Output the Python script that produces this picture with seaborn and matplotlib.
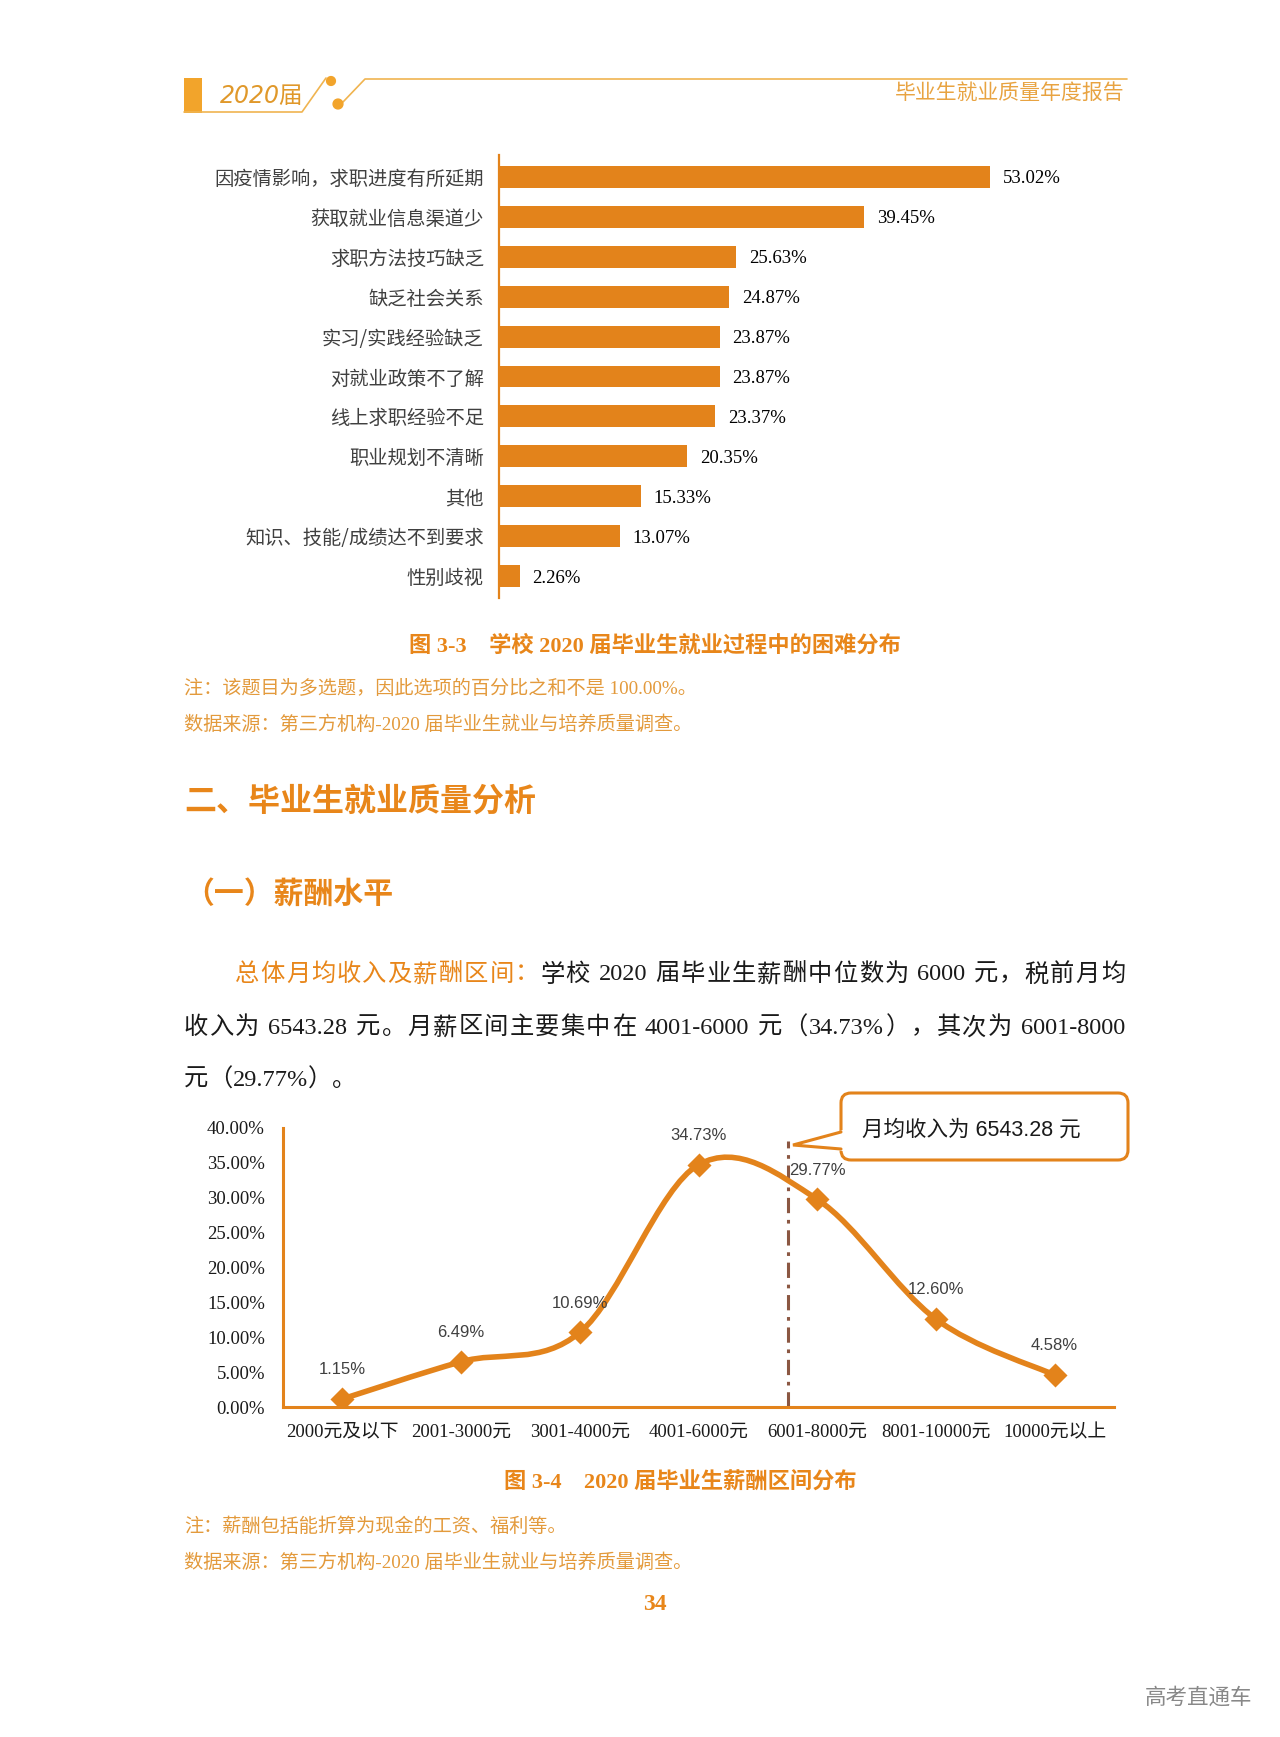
import re
import numpy as np
import pandas as pd
import seaborn as sns
import matplotlib.pyplot as plt
from matplotlib.path import Path
from matplotlib.patches import PathPatch, FancyBboxPatch, Polygon, Rectangle

# --- data ---
difficulties = ['因疫情影响，求职进度有所延期', '获取就业信息渠道少', '求职方法技巧缺乏',
                '缺乏社会关系', '实习/实践经验缺乏', '对就业政策不了解', '线上求职经验不足',
                '职业规划不清晰', '其他', '知识、技能/成绩达不到要求', '性别歧视']
difficulty_pct = [53.02, 39.45, 25.63, 24.87, 23.87, 23.87, 23.37, 20.35, 15.33, 13.07, 2.26]

salary_ranges = ['2000元及以下', '2001-3000元', '3001-4000元', '4001-6000元',
                 '6001-8000元', '8001-10000元', '10000元以上']
salary_pct = [1.15, 6.49, 10.69, 34.73, 29.77, 12.60, 4.58]
avg_income = 6543.28
avg_pos = 3.75          # where the average falls on the category axis
y_ticks = [0, 5, 10, 15, 20, 25, 30, 35, 40]

ORANGE = '#E3831B'
HEAD = '#E8861A'
NOTE = '#E39A3C'
TOP = '#E8A341'
GRAY = '#404040'
DARK = '#1a1a1a'

sns.set_style('white')
plt.rcParams['font.family'] = ['Liberation Serif', 'Noto Sans CJK SC', 'DejaVu Sans']
CJK = ['Noto Sans CJK SC', 'DejaVu Sans']
SERIF = ['Liberation Serif', 'Noto Sans CJK SC']
SANS = ['Liberation Sans', 'Noto Sans CJK SC']

W, H = 1280, 1737
fig = plt.figure(figsize=(W / 100, H / 100), dpi=100)


def box(x0, y0, x1, y1):
    # page pixel box -> figure fraction rect
    return [x0 / W, 1 - y1 / H, (x1 - x0) / W, (y1 - y0) / H]


# --- figure 3-3: horizontal bars ---
ax1 = fig.add_axes(box(499, 155, 1100, 598))
bar_df = pd.DataFrame({'item': difficulties, 'pct': difficulty_pct})
sns.barplot(data=bar_df, x='pct', y='item', color=ORANGE, width=0.55,
            linewidth=0, saturation=1, orient='h', ax=ax1)
ax1.set_xlim(0, 601 / 9.26)
ax1.set_ylim(len(difficulties) - 0.45, -0.55)
vlabels = ax1.bar_label(ax1.containers[0], labels=[f'{v:.2f}%' for v in difficulty_pct],
                        padding=9, fontsize=13.5, family=SERIF, color='black')
for t in vlabels:
    t.set_va('center_baseline')
for s in ['top', 'right', 'bottom']:
    ax1.spines[s].set_visible(False)
ax1.spines['left'].set_color(ORANGE)
ax1.spines['left'].set_linewidth(1.6)
ax1.set_xticks([])
ax1.set_xlabel('')
ax1.set_ylabel('')
ax1.tick_params(axis='y', length=0, pad=11)
for t in ax1.get_yticklabels():
    t.set_family(CJK)
    t.set_fontsize(13.9)
    t.set_color(GRAY)

# --- figure 3-4: salary curve ---
ax2 = fig.add_axes(box(283, 1128, 1114, 1407))
ax2.patch.set_alpha(0)
pos = np.arange(len(salary_ranges))
vals = np.array(salary_pct)

# Excel-style smoothed line through the points
pts = np.column_stack([pos, vals])
verts, codes = [pts[0]], [Path.MOVETO]
n = len(pts)
for i in range(n - 1):
    p_prev = pts[max(i - 1, 0)]
    p_next = pts[min(i + 2, n - 1)]
    verts += [pts[i] + (pts[i + 1] - p_prev) / 6,
              pts[i + 1] - (p_next - pts[i]) / 6,
              pts[i + 1]]
    codes += [Path.CURVE4] * 3
ax2.add_patch(PathPatch(Path(verts, codes), fill=False, ec=ORANGE, lw=4,
                        capstyle='round', joinstyle='round', zorder=3))
sns.scatterplot(x=pos, y=vals, marker='D', s=150, color=ORANGE,
                edgecolor=ORANGE, linewidth=0, zorder=4, ax=ax2)
for x, v in zip(pos, vals):
    ax2.annotate(f'{v:.2f}%', (x, v), xytext=(0, 21), textcoords='offset points',
                 ha='center', va='center', fontsize=12, family=SANS, color=GRAY)

ax2.axvline(avg_pos, ymin=0, ymax=0.953, color='#8B5742', lw=2.2,
            linestyle=(0, (5, 2.2, 1.2, 2.2)), zorder=2)

ax2.set_xlim(-0.5, n - 0.5)
ax2.set_ylim(0, 40)
ax2.set_yticks(y_ticks)
ax2.set_yticklabels([f'{v:.2f}%' for v in y_ticks], family=SERIF, fontsize=13.5,
                    color=DARK)
ax2.set_xticks(np.arange(n + 1) - 0.5)
ax2.set_xticklabels([])
ax2.set_xticks(pos, minor=True)
ax2.set_xticklabels(salary_ranges, minor=True, family=SERIF, fontsize=13.5,
                    color=DARK)
ax2.tick_params(axis='x', which='major', direction='in', length=7, width=1.5,
                color=ORANGE)
ax2.tick_params(axis='x', which='minor', length=0, pad=12)
ax2.tick_params(axis='y', direction='in', length=5, width=1.5, color=ORANGE, pad=13)
for s in ['top', 'right']:
    ax2.spines[s].set_visible(False)
for s in ['left', 'bottom']:
    ax2.spines[s].set_color(ORANGE)
    ax2.spines[s].set_linewidth(2.2)
ax2.set_xlabel('')
ax2.set_ylabel('')

# --- page layer (pixel coordinates) ---
page = fig.add_axes([0, 0, 1, 1], zorder=5)
page.set_xlim(0, W)
page.set_ylim(H, 0)
page.axis('off')

# header
page.add_patch(Rectangle((184, 78), 18, 35, color='#F2A42B', lw=0))
page.plot([184, 302, 326], [112, 112, 78], color='#F0B450', lw=1.2)
page.plot([343, 365, 1127], [102, 79, 79], color='#F0B450', lw=1.2)
page.scatter([331, 338], [81, 104], s=[40, 50], color='#F2A42B', zorder=3)
page.text(220, 96, '2020届', fontsize=17, style='italic', color='#E0982A',
          family=['DejaVu Sans', 'Noto Sans CJK SC'], va='center')
page.text(1125, 93, '毕业生就业质量年度报告', fontsize=15, color=TOP, family=CJK,
          ha='right', va='center')

# captions and notes
page.text(655, 646, '图 3-3    学校 2020 届毕业生就业过程中的困难分布', fontsize=16,
          weight='bold', color=HEAD, ha='center', va='center')
page.text(184, 689, '注：该题目为多选题，因此选项的百分比之和不是 100.00%。', fontsize=13.8,
          color=NOTE, va='center')
page.text(184, 725, '数据来源：第三方机构-2020 届毕业生就业与培养质量调查。', fontsize=13.8,
          color=NOTE, va='center')
page.text(184, 802, '二、毕业生就业质量分析', fontsize=23, weight='bold', color=HEAD,
          family=CJK, va='center')
page.text(184, 895, '（一）薪酬水平', fontsize=21.5, weight='bold', color=HEAD,
          family=CJK, va='center')

# body paragraph, justified by hand
renderer = fig.canvas.get_renderer()


def put_line(segments, x0, y, x1=None, size=17.5):
    parts = []
    for text, color in segments:
        for tok in re.findall(r'[0-9A-Za-z.%\-]+|\s+|\S', text):
            parts.append((tok, color))
    items = []
    for tok, color in parts:
        if tok.isspace():
            items.append((None, size * 0.25 * 100 / 72))
        else:
            t = page.text(0, y, tok, fontsize=size, color=color, va='center')
            items.append((t, t.get_window_extent(renderer).width))
    total = sum(w for _, w in items)
    gap = (x1 - x0 - total) / (len(items) - 1) if x1 else 0
    x = x0
    for t, w in items:
        if t is not None:
            t.set_x(x)
        x += w + gap


put_line([('总体月均收入及薪酬区间：', HEAD),
          ('学校 2020 届毕业生薪酬中位数为 6000 元，税前月均', DARK)], 235, 975, 1125)
put_line([('收入为 6543.28 元。月薪区间主要集中在 4001-6000 元（34.73%），其次为 6001-8000', DARK)],
         184, 1028, 1125)
put_line([('元（29.77%）。', DARK)], 184, 1080)

# callout
page.add_patch(FancyBboxPatch((841, 1093), 287, 67, boxstyle='round,pad=0,rounding_size=10',
                              fc='white', ec=ORANGE, lw=2.2))
page.add_patch(Polygon([(843, 1130), (793, 1145), (843, 1151)], closed=True,
                       fc='white', ec='none', zorder=3))
page.plot([841, 793, 841], [1132, 1145, 1149], color=ORANGE, lw=2.2, zorder=4,
          solid_joinstyle='miter')
page.text(862, 1130, f'月均收入为 {avg_income:.2f} 元', fontsize=15.5, family=SANS,
          color=DARK, va='center')

page.text(680, 1483, '图 3-4    2020 届毕业生薪酬区间分布', fontsize=16, weight='bold',
          color=HEAD, ha='center', va='center')
page.text(184, 1527, '注：薪酬包括能折算为现金的工资、福利等。', fontsize=13.8, color=NOTE,
          va='center')
page.text(184, 1563, '数据来源：第三方机构-2020 届毕业生就业与培养质量调查。', fontsize=13.8,
          color=NOTE, va='center')
page.text(655, 1604, '34', fontsize=17, weight='bold', color=HEAD, ha='center',
          va='center')
page.text(1198, 1698, '高考直通车', fontsize=15.5, color='#888888', family=CJK,
          ha='center', va='center')

fig.savefig('out.png', dpi=100)
